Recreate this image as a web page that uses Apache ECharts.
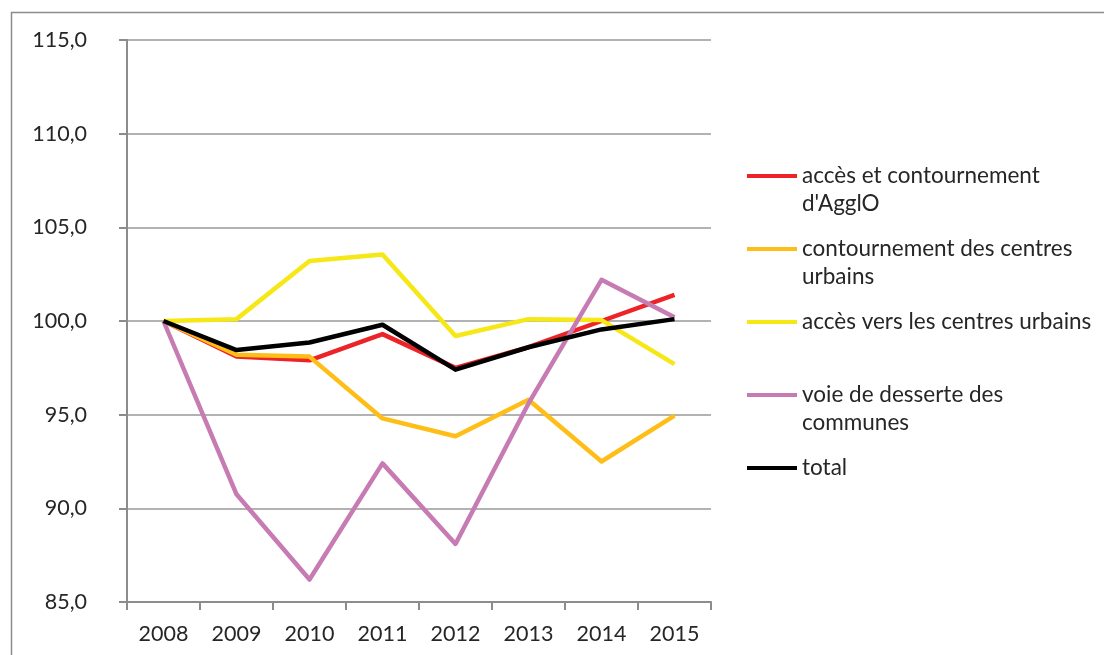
<!DOCTYPE html>
<html>
<head>
<meta charset="utf-8">
<script src="https://cdn.jsdelivr.net/npm/echarts@6/dist/echarts.min.js"></script>
<style>
  html, body { margin: 0; padding: 0; background: #fff; }
  #chart { width: 1104px; height: 655px; }
</style>
</head>
<body>
<div id="chart"></div>
<script>
// Years on the category axis
const years = ['2008', '2009', '2010', '2011', '2012', '2013', '2014', '2015'];

// Traffic index per road type (base 100 in 2008)
const accesAgglo = [100.0, 98.1, 97.9, 99.3, 97.5, 98.6, 100.0, 101.4];
const contournementCentres = [100.0, 98.2, 98.1, 94.8, 93.85, 95.8, 92.5, 94.95];
const accesCentres = [100.0, 100.1, 103.2, 103.55, 99.2, 100.1, 100.05, 97.7];
const voieDesserte = [100.0, 90.75, 86.2, 92.4, 88.1, 95.6, 102.2, 100.2];
const total = [100.0, 98.45, 98.85, 99.8, 97.4, 98.6, 99.55, 100.1];

// Series names as shown in the legend
const names = [
  "accès et contournement\nd'AgglO",
  'contournement des centres\nurbains',
  'accès vers les centres urbains',
  'voie de desserte des\ncommunes',
  'total'
];
const colors = ['#ec2427', '#ffbe17', '#f6e716', '#c77bb3', '#000000'];
const values = [accesAgglo, contournementCentres, accesCentres, voieDesserte, total];

const FONT = 'Lato';
const LINE_H = 28;

const chart = echarts.init(document.getElementById('chart'), null, { renderer: 'canvas' });

const series = names.map((n, i) => ({
  name: n,
  type: 'line',
  data: values[i],
  symbol: 'none',
  lineStyle: { color: colors[i], width: 4.5, join: 'round' },
  itemStyle: { color: colors[i] },
  z: 2 + i
}));

chart.setOption({
  animation: false,
  backgroundColor: '#ffffff',
  graphic: [{
    type: 'rect',
    silent: true,
    shape: { x: 11.5, y: 12.5, width: 1200, height: 700 },
    style: { fill: 'none', stroke: '#8c8c8c', lineWidth: 1.5 },
    z: 0
  }],
  grid: { left: 127, right: 393, top: 40, bottom: 53, containLabel: false },
  legend: {
    orient: 'vertical',
    left: 747,
    top: 134,
    padding: 0,
    itemWidth: 50,
    itemHeight: 4,
    itemGap: -11,
    icon: 'rect',
    selectedMode: false,
    data: names,
    // every entry is a three-line block so the icon lines up with the first text line
    formatter: (n) => n.indexOf('\n') >= 0 ? ' \n' + n : ' \n' + n + '\n ',
    textStyle: { fontFamily: FONT, fontSize: 22.5, color: '#262626', lineHeight: LINE_H }
  },
  xAxis: {
    type: 'category',
    data: years,
    boundaryGap: true,
    axisLine: { lineStyle: { color: '#8c8c8c', width: 2 } },
    axisTick: { show: true, length: 8, inside: false, lineStyle: { color: '#8c8c8c', width: 2 } },
    axisLabel: { fontFamily: FONT, fontSize: 21.5, color: '#262626', margin: 21 },
    splitLine: { show: false }
  },
  yAxis: {
    type: 'value',
    min: 85,
    max: 115,
    interval: 5,
    axisLine: { show: true, lineStyle: { color: '#8c8c8c', width: 2 } },
    axisTick: { show: true, length: 8, lineStyle: { color: '#8c8c8c', width: 2 } },
    axisLabel: {
      fontFamily: FONT, fontSize: 21.5, color: '#262626', margin: 40,
      align: 'right',
      formatter: (v) => v.toFixed(1).replace('.', ',')
    },
    splitLine: { show: true, lineStyle: { color: '#999999', width: 1.5 } }
  },
  series: series
});
</script>
</body>
</html>
